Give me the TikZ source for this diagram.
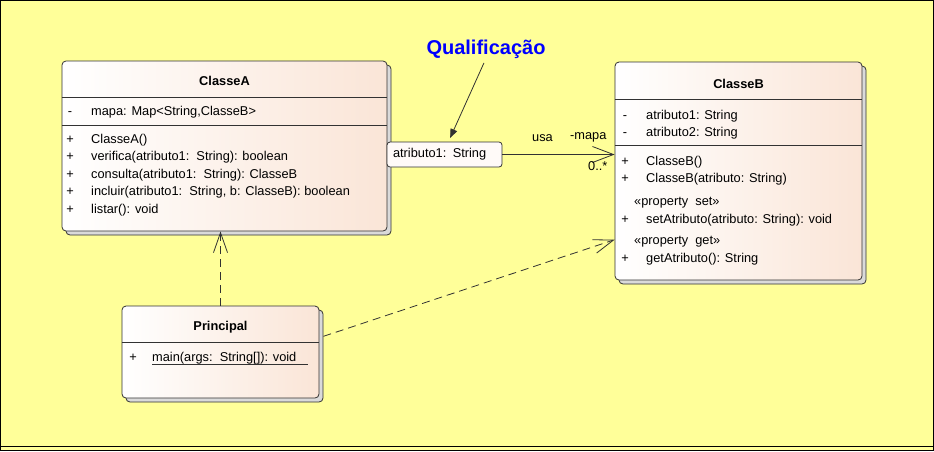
\documentclass[tikz,border=0pt]{standalone}
\usepackage{fontspec}
\setmainfont{Liberation Sans}
\usepackage{tikz}
\usetikzlibrary{positioning}
\usetikzlibrary{arrows.meta}
\usetikzlibrary{shadows}
\definecolor{bgyellow}{RGB}{255,255,153}
\definecolor{peach}{RGB}{250,229,215}
\definecolor{qualfill}{RGB}{255,250,248}
\definecolor{boxline}{RGB}{50,50,50}
\definecolor{shadowgray}{RGB}{218,218,218}
\definecolor{notetext}{RGB}{0,0,255}
\newcommand{\umlfont}{\fontsize{12.8}{15}\selectfont}

\begin{document}
\begin{tikzpicture}[x=1pt,y=-1pt,
	classbox/.style={draw=boxline, line width=0.8pt, rounded corners=4pt, inner sep=0pt,
		left color=white, right color=peach,
		drop shadow={shadow xshift=4pt, shadow yshift=-4pt, fill=shadowgray, draw=boxline, opacity=1}},
	title/.style={anchor=base, inner sep=0pt, font=\umlfont\bfseries},
	vis/.style={anchor=base, inner sep=0pt, font=\umlfont},
	member/.style={anchor=base west, inner sep=0pt, font=\umlfont},
	sep/.style={draw=boxline, line width=0.8pt},
	assoc/.style={draw=boxline, line width=0.8pt, -{Straight Barb[length=21pt,width=16pt]}},
	depend/.style={draw=boxline, line width=0.8pt, dash pattern=on 8pt off 5pt, -{Straight Barb[length=20pt,width=14pt]}},
	]
	\fill[bgyellow] (0,0) rectangle (934,451);
	\useasboundingbox (0,0) rectangle (934,451);
	\draw[line width=1.2pt] (0.6,0.6) rectangle (933.4,450.4);
	\draw[line width=1pt] (0,446.5) -- (934,446.5);

	% classes
	\node[classbox, minimum width=325, minimum height=170] (A) at (224.5,146) {};
	\node[classbox, minimum width=247, minimum height=218] (B) at (738.5,171) {};
	\node[classbox, minimum width=197, minimum height=92] (P) at (220.5,352) {};

	\draw[sep] (A.west |- 0,97) -- (A.east |- 0,97);
	\draw[sep] (A.west |- 0,125) -- (A.east |- 0,125);
	\draw[sep] (B.west |- 0,99) -- (B.east |- 0,99);
	\draw[sep] (B.west |- 0,145) -- (B.east |- 0,145);
	\draw[sep] (P.west |- 0,342) -- (P.east |- 0,342);

	\node[title] (tA) at (224.5,85) {ClasseA};
	\node[vis] (vA1) at (70,115) {-};
	\node[member] (mA1) at (91,115) {mapa: Map<String,ClasseB>};
	\node[vis] (vA2) at (70,143) {+};
	\node[member] (mA2) at (91,143) {ClasseA()};
	\node[vis] (vA3) at (70,160.5) {+};
	\node[member] (mA3) at (91,160.5) {verifica(atributo1:~~String): boolean};
	\node[vis] (vA4) at (70,178) {+};
	\node[member] (mA4) at (91,178) {consulta(atributo1:~~String): ClasseB};
	\node[vis] (vA5) at (70,195.5) {+};
	\node[member] (mA5) at (91,195.5) {incluir(atributo1:~~String, b: ClasseB): boolean};
	\node[vis] (vA6) at (70,213) {+};
	\node[member] (mA6) at (91,213) {listar(): void};

	\node[title] (tB) at (738.5,88) {ClasseB};
	\node[vis] (vB1) at (625,119) {-};
	\node[member] (mB1) at (646,119) {atributo1: String};
	\node[vis] (vB2) at (625,136) {-};
	\node[member] (mB2) at (646,136) {atributo2: String};
	\node[vis] (vB3) at (625,165) {+};
	\node[member] (mB3) at (646,165) {ClasseB()};
	\node[vis] (vB4) at (625,182) {+};
	\node[member] (mB4) at (646,182) {ClasseB(atributo: String)};
	\node[member] (sB1) at (634,205) {«property~~set»};
	\node[vis] (vB5) at (625,223) {+};
	\node[member] (mB5) at (646,223) {setAtributo(atributo: String): void};
	\node[member] (sB2) at (634,244) {«property~~get»};
	\node[vis] (vB6) at (625,262) {+};
	\node[member] (mB6) at (646,262) {getAtributo(): String};

	\node[title] (tP) at (220.5,330) {Principal};
	\node[vis] (vP1) at (133,361) {+};
	\node[member] (mP1) at (152,361) {main(args:~~String[]): void};
	\draw[sep] (mP1.base west) ++(0,3.5) -- ++(156,0);

	% qualifier and association
	\node[draw=boxline, line width=0.8pt, rounded corners=3pt, fill=qualfill, font=\umlfont,
		text width=103pt, inner xsep=6pt, minimum height=25, align=left] (q) at (444.5,154.5) {atributo1: String};
	\draw[assoc] (q.east) -- (q.east -| B.west);
	\node[member] (usa) at (532,141) {usa};
	\node[member] (mapa) at (570,139) {-mapa};
	\node[member] (mult) at (588,170) {0..*};

	\node[anchor=base, inner sep=0pt, text=notetext, font=\fontsize{20}{24}\selectfont\bfseries] (qn) at (486,54) {Qualificação};
	\draw[draw=boxline, line width=0.8pt, -{Triangle[length=9pt,width=7pt]}, shorten <=5pt, shorten >=4pt]
		(qn.south) -- ([xshift=4pt]q.north);

	% dependencies
	\draw[depend] (P.north) -- (P.north |- A.south);
	\draw[depend] ([xshift=4pt]P.9) -- (B.209);
\end{tikzpicture}
\end{document}
